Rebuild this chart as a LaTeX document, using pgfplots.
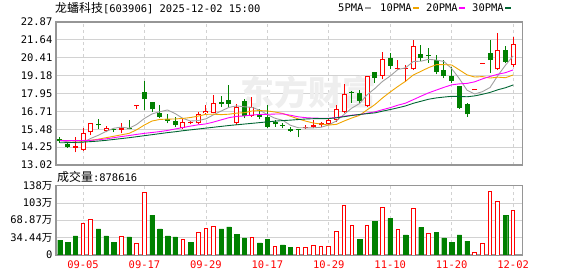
\documentclass[border=0pt]{standalone}
\usepackage{pgfplots}
\pgfplotsset{compat=1.18}
\usepackage{pgfplotstable}
\usepackage{fontspec}
\setmainfont{DejaVu Sans Mono}
\newfontfamily\cjk{Noto Sans CJK SC}
\definecolor{cred}{RGB}{255,0,0}
\definecolor{cgreen}{RGB}{0,128,0}
\definecolor{maA}{RGB}{160,160,160}
\definecolor{maB}{RGB}{240,165,0}
\definecolor{maC}{RGB}{255,0,255}
\definecolor{maD}{RGB}{0,102,51}
\definecolor{gridc}{RGB}{210,210,210}
\definecolor{framec}{RGB}{150,150,150}
\definecolor{wm}{RGB}{238,238,238}

\pgfplotstableread{
i o h l c
2 14.22 14.97 13.89 14.26
3 14.05 15.55 13.98 15.20
4 15.27 15.89 15.11 15.89
6 15.38 15.70 15.27 15.55
8 15.43 15.89 15.20 15.57
10 17.05 17.08 16.90 17.08
16 15.59 16.19 15.52 15.96
17 15.89 16.07 15.82 16.00
18 15.89 16.69 15.82 16.51
19 16.58 17.15 16.51 16.74
20 16.58 17.85 16.58 17.27
23 15.93 17.22 15.77 17.04
25 16.39 17.68 16.35 17.03
32 15.57 15.80 15.48 15.62
33 15.66 16.12 15.55 15.80
34 15.75 16.00 15.62 15.89
35 15.82 16.19 15.77 16.12
36 16.12 17.15 16.00 16.86
37 16.65 18.60 16.58 17.89
40 17.08 19.15 17.04 19.15
42 19.15 20.82 18.92 20.30
44 19.66 20.25 19.56 19.70
45 19.64 19.91 18.76 19.68
46 19.61 21.63 19.56 21.24
54 18.16 18.16 18.16 18.16
55 19.98 19.98 19.98 19.98
57 19.61 22.09 19.56 20.94
59 19.91 21.86 19.79 21.33
}\redk

\pgfplotstableread{
i o h l c
0 14.81 14.97 14.56 14.66
1 14.47 14.62 14.21 14.28
5 15.80 16.17 15.48 15.75
7 15.45 15.57 15.29 15.40
9 15.59 16.12 15.48 15.52
11 18.07 18.81 16.79 17.54
12 17.38 17.38 16.69 16.86
13 16.58 17.15 16.23 16.35
14 16.17 16.51 15.89 16.07
15 16.07 16.35 15.66 15.75
21 17.34 17.77 17.04 17.22
22 17.50 18.53 17.04 17.22
24 17.45 17.54 16.23 16.39
26 16.51 16.86 16.17 16.35
27 16.30 17.15 15.60 15.66
28 16.00 16.12 15.66 15.82
29 15.80 15.89 15.55 15.73
30 15.52 15.62 15.29 15.38
31 15.47 15.47 14.93 15.43
38 18.00 18.14 17.31 17.95
39 18.00 18.18 17.31 17.45
41 19.40 19.40 18.69 19.03
43 20.37 20.71 19.61 19.84
47 20.64 21.28 20.18 20.37
48 20.56 21.10 20.06 20.50
49 20.25 20.60 19.27 19.45
50 19.56 20.25 18.99 19.17
51 19.15 19.79 18.65 18.80
52 18.48 18.48 16.88 16.92
53 17.22 17.31 16.35 16.51
56 20.71 21.63 19.34 20.25
58 20.94 21.21 20.02 20.13
}\greenk

\pgfplotstableread{
i a b m d
0 14.70 14.72 14.70 14.55
1 14.62 14.70 14.70 14.56
2 14.55 14.68 14.70 14.58
3 14.57 14.68 14.71 14.60
4 14.85 14.72 14.72 14.63
5 15.07 14.80 14.76 14.67
6 15.33 14.90 14.82 14.72
7 15.55 15.00 14.90 14.78
8 15.63 15.10 14.98 14.84
9 15.55 15.20 15.05 14.90
10 15.82 15.45 15.13 14.97
11 16.23 15.78 15.20 15.04
12 16.54 16.05 15.26 15.11
13 16.69 16.16 15.32 15.18
14 16.81 16.18 15.40 15.25
15 16.56 16.19 15.50 15.31
16 16.23 16.23 15.60 15.38
17 16.05 16.29 15.70 15.44
18 16.08 16.39 15.79 15.50
19 16.20 16.51 15.85 15.56
20 16.48 16.52 15.98 15.62
21 16.74 16.49 16.13 15.68
22 16.99 16.52 16.28 15.74
23 17.09 16.59 16.37 15.79
24 17.03 16.62 16.40 15.84
25 16.99 16.74 16.46 15.89
26 16.80 16.77 16.50 15.94
27 16.49 16.74 16.51 15.99
28 16.24 16.67 16.53 16.04
29 16.10 16.57 16.54 16.08
30 15.76 16.38 16.45 16.11
31 15.59 16.20 16.34 16.15
32 15.58 16.04 16.28 16.19
33 15.58 15.91 16.25 16.21
34 15.62 15.84 16.24 16.21
35 15.78 15.77 16.24 16.22
36 16.06 15.82 16.29 16.27
37 16.51 16.05 16.38 16.35
38 16.94 16.26 16.45 16.43
39 17.25 16.44 16.49 16.50
40 17.86 16.82 16.59 16.56
41 18.29 17.18 16.68 16.61
42 18.78 17.64 16.83 16.73
43 19.15 18.05 16.97 16.84
44 19.60 18.43 17.14 16.96
45 19.71 18.79 17.28 17.09
46 20.15 19.22 17.52 17.27
47 20.17 19.47 17.76 17.41
48 20.30 19.73 17.99 17.55
49 20.25 19.93 18.18 17.64
50 20.15 19.93 18.37 17.70
51 19.66 19.91 18.54 17.75
52 18.97 19.57 18.61 17.74
53 18.17 19.23 18.64 17.72
54 17.91 19.08 18.75 17.78
55 18.07 19.11 18.95 17.89
56 18.36 19.01 19.12 18.02
57 19.17 19.07 19.27 18.20
58 19.89 19.03 19.38 18.34
59 20.53 19.22 19.57 18.53
}\matab

\pgfplotstableread{
i v
3 63.0
4 71.0
8 37.1
10 23.2
11 124.6
16 31.1
18 45.0
19 53.0
20 57.0
25 35.1
28 17.2
31 15.2
32 15.2
33 19.2
34 17.2
35 17.2
36 47.0
37 98.7
38 58.9
40 59.6
42 94.8
44 49.7
46 92.8
48 43.1
54 5.3
55 23.2
56 126.6
57 106.7
59 87.86
}\volr

\pgfplotstableread{
i v
0 29.8
1 25.8
2 37.8
5 51.7
6 37.8
7 25.8
9 35.8
12 79.5
13 51.7
14 37.8
15 35.8
17 25.8
21 51.7
22 55.7
23 41.7
24 33.8
26 23.9
27 31.8
29 19.9
30 15.9
39 31.8
41 66.3
43 72.9
45 39.8
47 55.0
49 45.7
50 33.8
51 25.8
52 39.8
53 27.8
58 79.5
}\volg

\begin{document}
\begin{tikzpicture}
\fontsize{10.5}{12}\selectfont
\path[use as bounding box] (0,0) rectangle (578bp,276bp);

\pgfplotsset{
  kaxis/.style={
    scale only axis, anchor=south west, width=466.7bp,
    xmin=-0.52, xmax=60.25,
    xtick={3,11,19,27,35,43,51,59},
    major tick length=0pt,
    xmajorgrids, ymajorgrids,
    x grid style={draw=gridc, dash pattern=on 3bp off 3bp, line width=0.8bp},
    y grid style={draw=gridc, line width=0.8bp},
    axis line style={draw=framec, line width=1.3bp},
    yticklabel style={font=\fontsize{10.5}{12}\selectfont, inner sep=0pt, xshift=-3.5bp},
  },
  wick/.style={draw=none, mark=none, error bars/.cd, y dir=plus, y explicit, error mark=none,
    error bar style={draw=#1, solid, line width=1bp}},
  body/.style 2 args={draw=none, mark=none, error bars/.cd, y dir=plus, y explicit, error mark=none,
    error bar style={draw=#1, solid, line width=#2, line cap=butt}},
}

\begin{axis}[kaxis, at={(56bp,111bp)}, height=143bp,
  ymin=13.02, ymax=22.87,
  xticklabels={},
  ytick={13.02,14.25,15.48,16.71,17.95,19.18,20.41,21.64,22.87},
  yticklabels={13.02,14.25,15.48,16.71,17.95,19.18,20.41,21.64,22.87},
]
\node[text=wm, font=\cjk\fontsize{34}{34}\selectfont\bfseries, anchor=west, inner sep=0pt] at (axis cs:23.5,18.0) {东方财富};
% wicks
\addplot[wick=cred] table[x=i, y=l, y error plus expr=\thisrow{h}-\thisrow{l}] {\redk};
\addplot[wick=cgreen] table[x=i, y=l, y error plus expr=\thisrow{h}-\thisrow{l}] {\greenk};
% bodies
\addplot[body={cred}{5bp}] table[x=i, y expr={min(\thisrow{o},\thisrow{c})}, y error plus expr={max(abs(\thisrow{c}-\thisrow{o}),0.075)}] {\redk};
\addplot[body={white}{3bp}] table[x=i, y expr={min(\thisrow{o},\thisrow{c})+0.07}, y error plus expr={max(abs(\thisrow{c}-\thisrow{o})-0.14,0)}] {\redk};
\addplot[body={cgreen}{5bp}] table[x=i, y expr={min(\thisrow{o},\thisrow{c})}, y error plus expr={max(abs(\thisrow{c}-\thisrow{o}),0.075)}] {\greenk};
% moving averages
\addplot[maA, line width=0.9bp, mark=none] table[x=i, y=a] {\matab};
\addplot[maB, line width=0.9bp, mark=none] table[x=i, y=b] {\matab};
\addplot[maC, line width=0.9bp, mark=none] table[x=i, y=m] {\matab};
\addplot[maD, line width=0.9bp, mark=none] table[x=i, y=d] {\matab};
\end{axis}

\begin{axis}[kaxis, at={(56bp,21bp)}, height=69.3bp,
  ymin=0, ymax=137.75,
  ytick={0,34.44,68.87,103.31,137.75},
  yticklabels={0,{34.44{\cjk 万}},{68.87{\cjk 万}},{103{\cjk 万}},{138{\cjk 万}}},
  xticklabels={09-05,09-17,09-29,10-17,10-29,11-10,11-20,12-02},
  xticklabel style={text=cred, font=\fontsize{10.5}{12}\selectfont, inner sep=0pt, yshift=-6bp},
]
\addplot[ybar, bar width=4.5bp, bar shift=0pt, fill=cgreen, draw=cgreen, line width=0.3bp] table[x=i, y=v] {\volg};
\addplot[ybar, bar width=3.6bp, bar shift=0pt, fill=white, draw=cred, line width=1bp] table[x=i, y=v] {\volr};
\end{axis}

% title
\node[anchor=west, inner sep=0pt] at (55bp,268bp) {{\cjk\fontsize{12}{14}\selectfont 龙蟠科技}[603906] 2025-12-02 15:00};
% legend
\node[anchor=west, inner sep=0pt] at (338bp,268bp) {5PMA};
\fill[maA] (365bp,266.5bp) rectangle (371bp,269bp);
\node[anchor=west, inner sep=0pt] at (380bp,268bp) {10PMA};
\fill[maB] (413bp,266.5bp) rectangle (419bp,269bp);
\node[anchor=west, inner sep=0pt] at (426bp,268bp) {20PMA};
\fill[maC] (459bp,266.5bp) rectangle (465bp,269bp);
\node[anchor=west, inner sep=0pt] at (472bp,268bp) {30PMA};
\fill[maD] (505bp,266.5bp) rectangle (511bp,269bp);
% volume caption
\node[anchor=west, inner sep=0pt] at (57bp,99bp) {{\cjk\fontsize{12}{14}\selectfont 成交量}:878616};
\end{tikzpicture}
\end{document}
